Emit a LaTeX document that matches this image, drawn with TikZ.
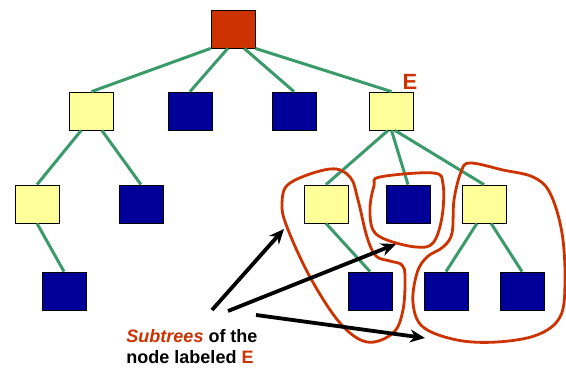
\documentclass[tikz,border=0pt]{standalone}
\usepackage{fontspec}
\setmainfont{Liberation Sans}
\usetikzlibrary{arrows.meta}
\definecolor{rootred}{HTML}{CC3300}
\definecolor{paleyellow}{HTML}{FFFF99}
\definecolor{darkblue}{HTML}{000099}
\definecolor{edgegreen}{HTML}{3A9A6A}
\tikzset{
    box/.style={shape=rectangle, draw=black, line width=0.8pt, minimum width=44pt, minimum height=38pt, inner sep=0pt},
    rootbox/.style={box, fill=rootred},
    yellowbox/.style={box, fill=paleyellow},
    bluebox/.style={box, fill=darkblue},
    edge/.style={edgegreen, line width=3pt},
    subtree/.style={rootred, line width=2.8pt},
    pointer/.style={line width=3.8pt, -{Stealth[length=15pt,width=13pt]}}}

\begin{document}
\begin{tikzpicture}[x=1pt, y=-1pt]
            \useasboundingbox (0,0) rectangle (566,369);

                    \node[rootbox] (R) at (233,29) {};

                    \node[yellowbox] (A) at (91.5,111) {};
                    \node[bluebox] (B) at (190,111) {};
                    \node[bluebox] (C) at (294,111) {};
                    \node[yellowbox] (E) at (391.5,111) {};
                    \node[text=rootred, font=\bfseries\fontsize{22}{26}\selectfont] (Elabel) at (410,82) {E};

                    \node[yellowbox] (A1) at (37,204) {};
                    \node[bluebox] (A2) at (141,204) {};
                    \node[bluebox] (A11) at (64,291) {};

                    \node[yellowbox] (E1) at (326,204) {};
                    \node[bluebox] (E2) at (408,204) {};
                    \node[yellowbox] (E3) at (484,204) {};
                    \node[bluebox] (E11) at (370,291) {};
                    \node[bluebox] (E31) at (446,291) {};
                    \node[bluebox] (E32) at (522,291) {};

                    \draw[edge] (R.-139) -- (A.north);
                    \draw[edge] (R.-105) -- (B.north);
                    \draw[edge] (R.-60) -- (C.north);
                    \draw[edge] (R.-41) -- (E.north);
                    \draw[edge] (A.-118) -- (A1.north);
                    \draw[edge] (A.-62) -- (A2.north);
                    \draw[edge] (A1.south) -- (A11.north);
                    \draw[edge] (E.-100) -- (E1.north);
                    \draw[edge] (E.south) -- (E2.north);
                    \draw[edge] (E.-80) -- (E3.north);
                    \draw[edge] (E1.south) -- (E11.north);
                    \draw[edge] (E3.-110) -- (E31.north);
                    \draw[edge] (E3.-70) -- (E32.north);

                    % outlines of the three subtrees
                    \draw[subtree] plot[smooth cycle, tension=0.6] coordinates {(330,169) (290,183) (282,203) (287,227) (310,277) (340,323) (367,342) (393,333) (403,310) (405,277) (402,265) (390,261) (376,256) (367,237) (358,200) (350,177)};
                    \draw[subtree] plot[smooth cycle, tension=0.6] coordinates {(380,177) (433,173) (443,184) (442,217) (433,243) (416,247) (387,240) (373,230) (370,208) (374,186)};
                    \draw[subtree] plot[smooth cycle, tension=0.6] coordinates {(470,163) (461,172) (454,200) (452,233) (443,247) (427,257) (417,273) (413,303) (423,327) (457,340) (497,342) (537,335) (560,317) (565,283) (562,233) (550,193) (533,177) (503,170)};

                    \node[align=left, font=\bfseries\fontsize{18}{21}\selectfont] (caption) at (192,347) {\textcolor{rootred}{\itshape Subtrees} of the\\node labeled \textcolor{rootred}{E}};

                    \coordinate (p1) at (212,310);
                    \coordinate (p2) at (228,311);
                    \coordinate (p3) at (256,315);
                    \coordinate (t1) at (284,229);
                    \coordinate (t2) at (396,244);
                    \coordinate (t3) at (425,338);
                    \draw[pointer] (p1) -- (t1);
                    \draw[pointer] (p2) -- (t2);
                    \draw[pointer] (p3) -- (t3);

                \end{tikzpicture}
\end{document}
